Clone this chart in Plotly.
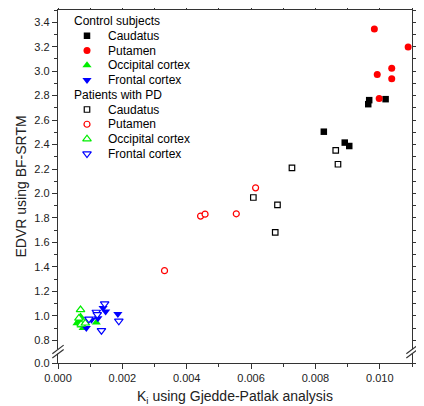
import plotly.graph_objects as go

# ---- data ----
ctrl_caud_x = [0.00967, 0.00964, 0.01018, 0.00826, 0.00891, 0.00905]
ctrl_caud_y = [2.763, 2.730, 2.771, 2.505, 2.416, 2.388]

ctrl_put_x = [0.00983, 0.01088, 0.01037, 0.00992, 0.01037, 0.00998]
ctrl_put_y = [3.345, 3.198, 3.024, 2.972, 2.937, 2.777]

ctrl_occ_x = [0.00070, 0.00059, 0.00078, 0.00119, 0.00065, 0.00072]
ctrl_occ_y = [0.995, 0.940, 0.900, 0.945, 0.960, 0.920]

ctrl_fro_x = [0.00088, 0.00104, 0.00124, 0.00140, 0.00148, 0.00186]
ctrl_fro_y = [0.900, 0.967, 0.980, 1.063, 1.035, 1.014]

pd_caud_x = [0.00863, 0.00870, 0.00727, 0.00607, 0.00682, 0.00675]
pd_caud_y = [2.353, 2.239, 2.209, 1.967, 1.907, 1.682]

pd_put_x = [0.00331, 0.00443, 0.00457, 0.00554, 0.00614]
pd_put_y = [1.369, 1.815, 1.831, 1.834, 2.046]

pd_occ_x = [0.00070, 0.00078, 0.00072, 0.00085, 0.00065]
pd_occ_y = [1.049, 0.950, 0.930, 0.940, 0.980]

pd_fro_x = [0.00096, 0.00119, 0.00145, 0.00135, 0.00189, 0.00122]
pd_fro_y = [0.973, 1.030, 1.098, 0.880, 0.957, 1.010]

group_titles = ["Control subjects", "Patients with PD"]
region_names = ["Caudatus", "Putamen", "Occipital cortex", "Frontal cortex"]

# y axis tick labels (axis is broken: the bottom "0.0" sits below the break)
y_axis_bottom = 0.614
y_tickvals = [y_axis_bottom, 0.8, 1.0, 1.2, 1.4, 1.6, 1.8, 2.0, 2.2, 2.4, 2.6, 2.8, 3.0, 3.2, 3.4]
y_ticktext = ["0.0", "0.8", "1.0", "1.2", "1.4", "1.6", "1.8", "2.0", "2.2", "2.4", "2.6", "2.8", "3.0", "3.2", "3.4"]
y_minor = [0.9, 1.1, 1.3, 1.5, 1.7, 1.9, 2.1, 2.3, 2.5, 2.7, 2.9, 3.1, 3.3, 3.5]

FONT = "Liberation Sans, Arial, sans-serif"

symbols = ["square", "circle", "triangle-up", "triangle-down"]
colors = ["black", "#ff0000", "#00ee00", "#0000ff"]
sizes_filled = [6.5, 7, 8, 8]
sizes_open = [5.5, 6, 7.5, 7.5]

series = [
    (ctrl_caud_x, ctrl_caud_y), (ctrl_put_x, ctrl_put_y),
    (ctrl_occ_x, ctrl_occ_y), (ctrl_fro_x, ctrl_fro_y),
    (pd_caud_x, pd_caud_y), (pd_put_x, pd_put_y),
    (pd_occ_x, pd_occ_y), (pd_fro_x, pd_fro_y),
]

def marker_for(i, filled):
    c = colors[i]
    return dict(symbol=symbols[i],
                size=sizes_filled[i] if filled else sizes_open[i],
                color=c if filled else "white",
                line=dict(color=c, width=0 if filled else 1.2))

fig = go.Figure()
for k, (x, y) in enumerate(series):
    i, filled = k % 4, k < 4
    fig.add_trace(go.Scatter(x=x, y=y, mode="markers", showlegend=False,
                             name=region_names[i], marker=marker_for(i, filled)))

# ---- hand-built legend (pixel coordinates inside the plot area) ----
row_h = 14.75
row0 = 11
sym_x, text_x, head_x = 29, 48, 14
annotations = []
for g in range(2):
    base = row0 + g * 5 * row_h
    annotations.append(dict(x=head_x, y=base, xref="x2", yref="y2", text=group_titles[g],
                            showarrow=False, xanchor="left", yanchor="middle",
                            font=dict(size=12, family=FONT, color="black")))
    for i in range(4):
        yy = base + (i + 1) * row_h
        annotations.append(dict(x=text_x, y=yy, xref="x2", yref="y2", text=region_names[i],
                                showarrow=False, xanchor="left", yanchor="middle",
                                font=dict(size=12, family=FONT, color="black")))
        fig.add_trace(go.Scatter(x=[sym_x], y=[yy], xaxis="x2", yaxis="y2", mode="markers",
                                 showlegend=False, hoverinfo="skip",
                                 marker=marker_for(i, g == 0)))

# y-axis title as a rotated annotation for precise placement
annotations.append(dict(x=0, y=0.5, xref="paper", yref="paper", xshift=-38,
                        text="EDVR using BF-SRTM", textangle=-90, showarrow=False,
                        xanchor="center", yanchor="middle",
                        font=dict(size=14, family=FONT, color="#222222")))

axis_common = dict(
    showline=True, linecolor="#333333", linewidth=1.3, mirror="ticks",
    ticks="outside", ticklen=5, tickwidth=1, tickcolor="#333333",
    showgrid=False, zeroline=False, automargin=False,
    tickfont=dict(size=11, color="#222222", family=FONT),
)

# page body adds an 8 px offset, so the figure is 8 px smaller and margins shifted
fig.update_layout(
    width=416, height=398,
    margin=dict(l=50, r=12, t=2, b=43, autoexpand=False),
    paper_bgcolor="white", plot_bgcolor="white",
    font=dict(family=FONT, size=12, color="black"),
    showlegend=False,
    annotations=annotations,
    xaxis=dict(axis_common, range=[0, 0.011], dtick=0.002, tick0=0, tickformat=".3f",
               minor=dict(dtick=0.001, ticks="outside", ticklen=3, tickcolor="#333333"),
               title=dict(text="K<sub>i</sub> using Gjedde-Patlak analysis",
                          font=dict(size=14, family=FONT, color="#222222"))),
    yaxis=dict(axis_common, range=[y_axis_bottom, 3.5], tickmode="array",
               tickvals=y_tickvals, ticktext=y_ticktext,
               minor=dict(tickmode="array", tickvals=y_minor, ticks="outside", ticklen=3, tickcolor="#333333")),
    xaxis2=dict(overlaying="x", range=[0, 354], visible=False, fixedrange=True),
    yaxis2=dict(overlaying="y", range=[353, 0], visible=False, fixedrange=True),
)

# axis-break marks on left and right y axes
def yp(v):
    return (v - y_axis_bottom) / (3.5 - y_axis_bottom)

shapes = []
for xs in (0.0, 1.0):
    shapes.append(dict(type="rect", xref="paper", yref="paper",
                       x0=xs - 0.008, x1=xs + 0.008, y0=yp(0.69), y1=yp(0.725),
                       fillcolor="white", line=dict(width=0), layer="above"))
    for base in (0.655, 0.69):
        shapes.append(dict(type="line", xref="paper", yref="paper",
                           x0=xs - 0.016, x1=xs + 0.016, y0=yp(base), y1=yp(base + 0.07),
                           line=dict(color="#333333", width=1.2), layer="above"))
fig.update_layout(shapes=shapes)

fig.write_html("out.html")
